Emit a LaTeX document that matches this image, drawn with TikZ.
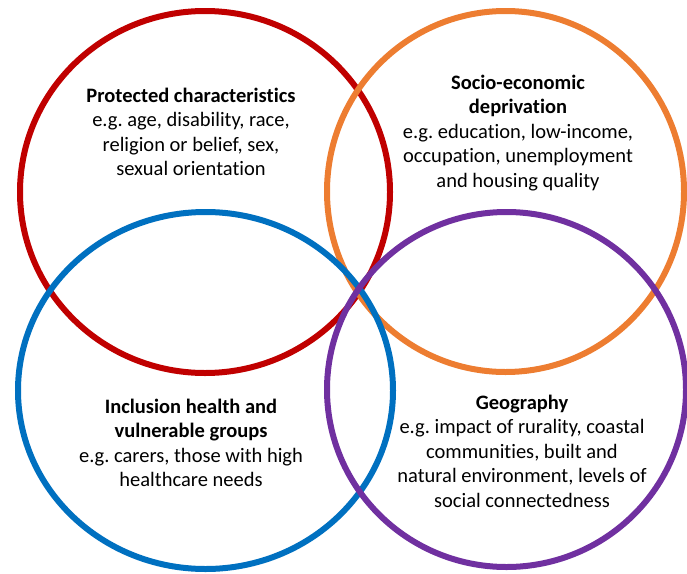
\documentclass[tikz,border=0pt]{standalone}
\usepackage{fontspec}
\setmainfont{Carlito}[Ligatures=NoCommon]
\frenchspacing
\definecolor{ringred}{HTML}{C00000}
\definecolor{ringorange}{HTML}{ED7D31}
\definecolor{ringblue}{HTML}{0070C0}
\definecolor{ringpurple}{HTML}{7030A0}
\begin{document}
\begin{tikzpicture}[x=1pt, y=-1pt,
        ring/.style={line width=6pt},
        blurb/.style={align=center, inner sep=0pt, font=\fontsize{20.5}{24.5}\selectfont}]
                \useasboundingbox (0, 0) rectangle (687, 573);
                \coordinate (P) at (205, 192);
                \coordinate (S) at (505.5, 191.5);
                \coordinate (I) at (205.5, 390.5);
                \coordinate (G) at (506.5, 389.5);
                \draw[ring, ringred] (P) ellipse (185 and 181);
                \draw[ring, ringorange] (S) ellipse (178.5 and 180.5);
                \draw[ring, ringblue] (I) ellipse (187.5 and 178.5);
                \draw[ring, ringpurple] (G) ellipse (179.5 and 177.5);
                \node[blurb] (protected) at (191, 132) {\textbf{Protected characteristics}\\e.g. age, disability, race,\\religion or belief, sex,\\sexual orientation};
                \node[blurb] (socio) at (518, 133) {\textbf{Socio-economic}\\\textbf{deprivation}\\e.g. education, low-income,\\occupation, unemployment\\and housing quality};
                \node[blurb] (inclusion) at (191, 443) {\textbf{Inclusion health and}\\\textbf{vulnerable groups}\\e.g. carers, those with high\\healthcare needs};
                \node[blurb] (geography) at (522, 451) {\textbf{Geography}\\e.g. impact of rurality, coastal\\communities, built and\\natural environment, levels of\\social connectedness};
            \end{tikzpicture}
\end{document}
